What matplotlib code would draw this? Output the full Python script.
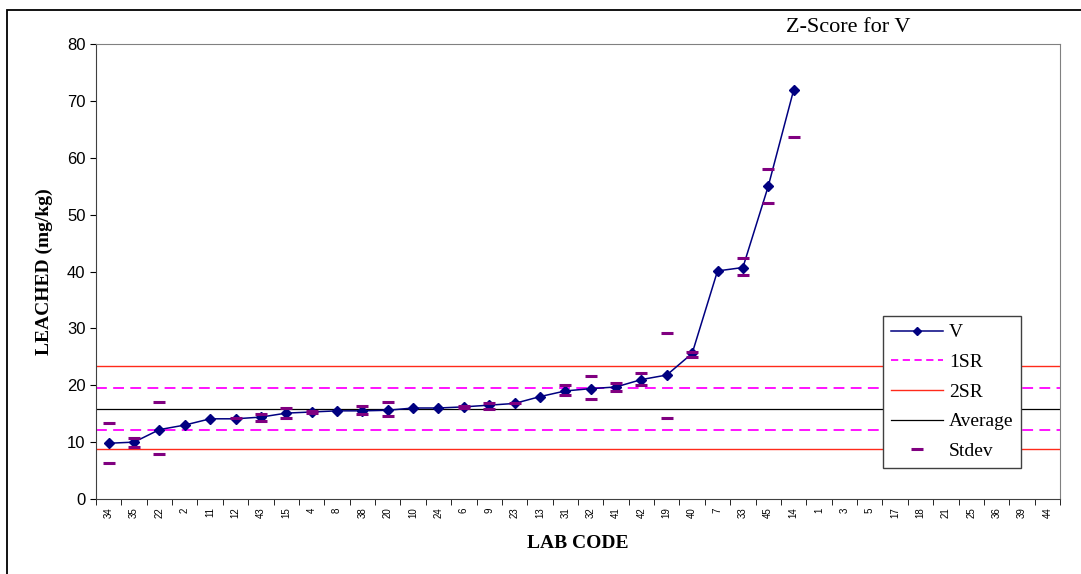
import numpy as np
import matplotlib
matplotlib.use("Agg")
import matplotlib.pyplot as plt
from matplotlib.lines import Line2D
from matplotlib.patches import Rectangle

# data
lab_codes = ["34", "35", "22", "2", "11", "12", "43", "15", "4", "8",
             "38", "20", "10", "24", "6", "9", "23", "13", "31", "32",
             "41", "42", "19", "40", "7", "33", "45", "14", "1", "3",
             "5", "17", "18", "21", "25", "36", "39", "44"]
v_values = [9.8, 10.0, 12.2, 13.0, 14.1, 14.1, 14.4, 15.1, 15.3, 15.5,
            15.5, 15.6, 16.0, 16.0, 16.2, 16.5, 16.8, 18.0, 19.0, 19.4,
            19.7, 21.0, 21.8, 25.6, 40.1, 40.7, 55.0, 71.9]
stdev_hi = [13.4, 10.8, 17.0, None, None, 14.2, 14.9, 16.0, 15.5, None,
            16.3, 17.0, None, None, 16.4, 16.9, 16.9, None, 20.0, 21.7,
            20.4, 22.1, 29.2, 25.9, None, 42.4, 58.1, 63.7]
stdev_lo = [6.4, 9.1, 8.0, None, None, None, 13.8, 14.3, 15.1, None,
            15.0, 14.6, None, None, 16.0, 15.9, None, None, 18.2, 17.5,
            19.0, 20.0, 14.2, 25.0, None, 39.4, 52.1, None]
sr1 = [19.6, 12.1]
sr2 = [23.4, 8.8]
average = 15.9

plt.rcParams['font.family'] = ['Liberation Sans', 'DejaVu Sans']
serif = ['Liberation Serif', 'DejaVu Serif']

fig = plt.figure(figsize=(10.81, 5.74), dpi=100)
ax = fig.add_axes([96/1081, 1-499/574, (1060-96)/1081, (499-44)/574])

x = np.arange(len(lab_codes))
xv = x[:len(v_values)]

for y in sr2:
    ax.axhline(y, color='#ff2a1a', lw=1.0, zorder=1)
for y in sr1:
    ax.axhline(y, color='#ff00ff', lw=1.3, ls=(0, (6, 3.5)), zorder=1)
ax.axhline(average, color='black', lw=0.9, zorder=1)

ax.plot(xv, v_values, color='#000080', lw=1.1, marker='D', ms=5.5, zorder=3)

for i in range(len(v_values)):
    for s in (stdev_hi[i], stdev_lo[i]):
        if s is not None:
            ax.plot(i, s, marker='_', color='#800080', ms=8, mew=2.2, ls='none', zorder=4)

ax.set_xlim(-0.5, len(lab_codes) - 0.5)
ax.set_ylim(0, 80)
ax.set_yticks(range(0, 81, 10))
ax.set_xticks(x)
ax.set_xticklabels(lab_codes, rotation=90, fontsize=7)
ax.set_xticks(np.arange(-0.5, len(lab_codes)), minor=True)
ax.tick_params(axis='x', which='major', length=0, pad=6)
ax.tick_params(axis='x', which='minor', length=4, direction='out')
ax.tick_params(axis='y', length=4, direction='out', labelsize=12)

for side in ['top', 'right']:
    ax.spines[side].set_color('#808080')
ax.spines['bottom'].set_color('#404040')
ax.spines['left'].set_color('#404040')

ax.set_ylabel('LEACHED (mg/kg)', fontsize=14, fontweight='bold', family=serif, labelpad=10)
ax.set_xlabel('LAB CODE', fontsize=14, fontweight='bold', family=serif, labelpad=12)
fig.text(848/1081, 1-28/574, 'Z-Score for V', fontsize=16, family=serif, ha='center', va='center')

handles = [
    Line2D([], [], color='#000080', lw=1.1, marker='D', ms=4),
    Line2D([], [], color='#ff00ff', lw=1.3, ls=(0, (4, 2.5))),
    Line2D([], [], color='#ff2a1a', lw=1.0),
    Line2D([], [], color='black', lw=0.9),
    Line2D([], [], color='#800080', marker='_', ms=8, mew=2.2, ls='none'),
]
leg = ax.legend(handles, ['V', '1SR', '2SR', 'Average', 'Stdev'],
                loc='upper left', bbox_to_anchor=((883-96)/964, (499-316)/455),
                prop={'family': serif, 'size': 14}, frameon=True, fancybox=False,
                edgecolor='#404040', framealpha=1, borderpad=0.4, labelspacing=0.62,
                handlelength=2.7, handletextpad=0.3, borderaxespad=0)
leg.get_frame().set_linewidth(1.0)

fig.add_artist(Rectangle((7/1081, -0.1), 1.2, 1 - 10/574 + 0.1, transform=fig.transFigure,
                         fill=False, edgecolor='black', lw=1.3))

fig.savefig('out.png', dpi=100)
